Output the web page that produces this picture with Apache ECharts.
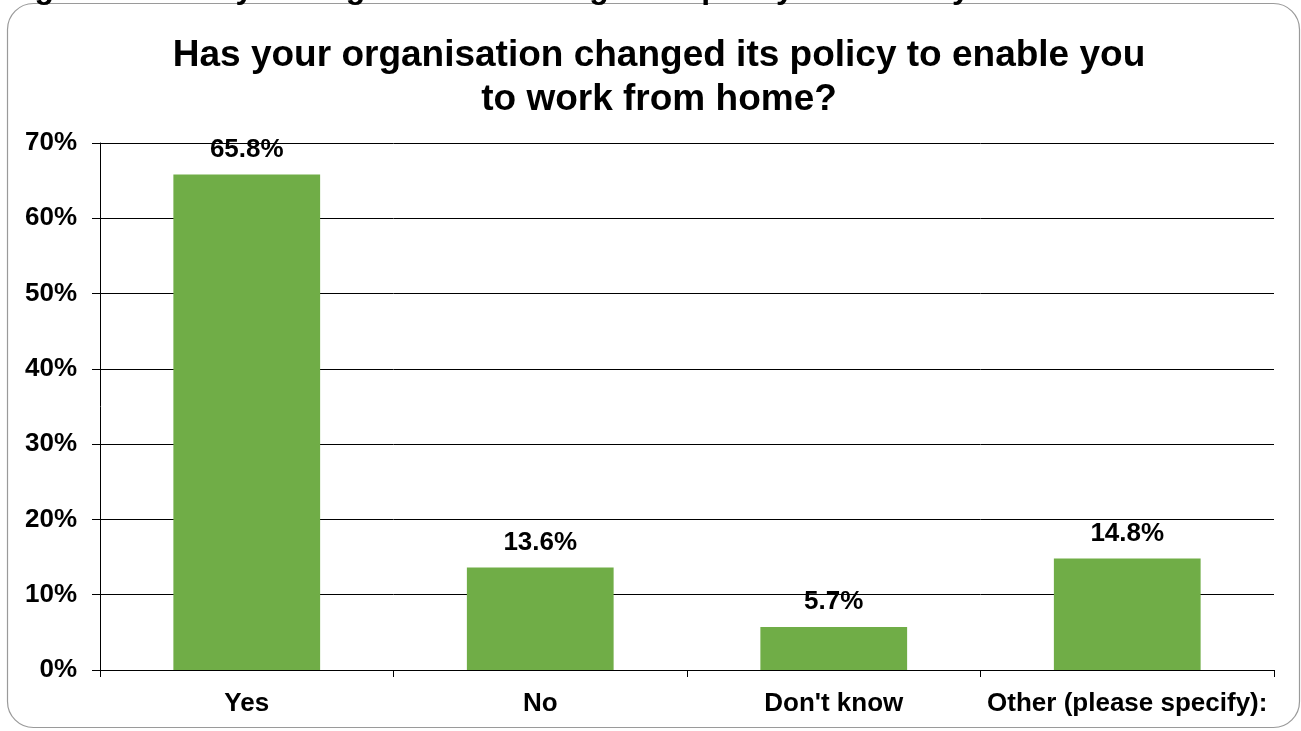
<!DOCTYPE html>
<html>
<head>
<meta charset="utf-8">
<style>
  html, body { margin: 0; padding: 0; background: #ffffff; }
  #chart { width: 1301px; height: 731px; }
</style>
<script src="https://cdn.jsdelivr.net/npm/echarts@6/dist/echarts.min.js"></script>
</head>
<body>
<div id="chart"></div>
<script>
// Survey responses: share of respondents per answer
const categories = ['Yes', 'No', "Don't know", 'Other (please specify):'];
const shares = [65.8, 13.6, 5.7, 14.8];
const yTicks = [0, 10, 20, 30, 40, 50, 60, 70];

const FONT = '"Liberation Sans", Arial, sans-serif';

const chart = echarts.init(document.getElementById('chart'), null, { renderer: 'canvas' });

chart.setOption({
  backgroundColor: '#ffffff',
  animation: false,
  graphic: [
    {
      // rounded frame around the chart
      type: 'rect',
      shape: { x: 7.5, y: 3.5, width: 1292, height: 724, r: 26 },
      style: { fill: 'none', stroke: '#9a9a9a', lineWidth: 1.2 },
      z: -10
    },
    {
      // document caption sitting above the frame (runs off the top edge)
      type: 'text',
      x: 6,
      y: -11,
      z: 10,
      style: {
        text: 'Figure 10: Has your organisation changed its policy to enable you to work from home?',
        font: 'bold 32px "Liberation Sans", Arial, sans-serif',
        fill: '#000000',
        verticalAlign: 'middle',
        align: 'left'
      }
    }
  ],
  title: {
    text: 'Has your organisation changed its policy to enable you\nto work from home?',
    left: 654,
    top: 29,
    textAlign: 'center',
    textStyle: {
      fontFamily: FONT,
      fontSize: 37,
      fontWeight: 'bold',
      color: '#000000',
      lineHeight: 44
    }
  },
  grid: { left: 100, right: 27, top: 143, bottom: 61, containLabel: false },
  xAxis: {
    type: 'category',
    data: categories,
    axisLine: { show: true, lineStyle: { color: '#000000', width: 1 } },
    axisTick: { show: true, length: 7, alignWithLabel: false, lineStyle: { color: '#000000' } },
    axisLabel: {
      fontFamily: FONT,
      fontSize: 26,
      fontWeight: 'bold',
      color: '#000000',
      margin: 21,
      interval: 0
    },
    splitLine: { show: false }
  },
  yAxis: {
    type: 'value',
    min: yTicks[0],
    max: yTicks[yTicks.length - 1],
    interval: 10,
    axisLine: { show: true, lineStyle: { color: '#000000', width: 1 } },
    axisTick: { show: true, length: 8, inside: false, lineStyle: { color: '#000000' } },
    axisLabel: {
      fontFamily: FONT,
      fontSize: 26,
      fontWeight: 'bold',
      color: '#000000',
      margin: 23,
      formatter: v => v + '%'
    },
    splitLine: { show: true, lineStyle: { color: '#000000', width: 1 } }
  },
  series: [
    {
      type: 'bar',
      data: shares,
      barWidth: '50%',
      itemStyle: { color: '#70AD47' },
      label: {
        show: true,
        position: 'top',
        distance: 12,
        fontFamily: FONT,
        fontSize: 26,
        fontWeight: 'bold',
        color: '#000000',
        formatter: p => p.value.toFixed(1) + '%'
      }
    }
  ]
});
</script>
</body>
</html>
